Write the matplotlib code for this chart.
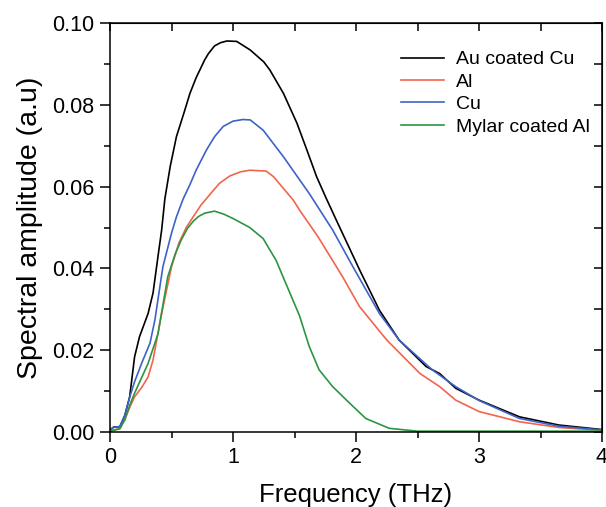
import matplotlib
matplotlib.use("Agg")
import matplotlib.pyplot as plt
from matplotlib.ticker import MultipleLocator

plt.rcParams['font.family'] = ['Liberation Sans', 'DejaVu Sans']

au_f = [0, 0.03, 0.08, 0.12, 0.16, 0.20, 0.24, 0.31, 0.35, 0.39, 0.42, 0.446, 0.49, 0.54, 0.60, 0.65,
        0.70, 0.77, 0.80, 0.85, 0.90, 0.95, 1.03, 1.14, 1.25, 1.30, 1.41, 1.52, 1.60, 1.68, 1.76, 1.84,
        2.03, 2.19, 2.35, 2.57, 2.68, 2.81, 3.0, 3.33, 3.65, 4.0]
au_v = [0.0005, 0.0012, 0.0013, 0.004, 0.0086, 0.0184, 0.0233, 0.029, 0.034, 0.0429, 0.0494, 0.0570,
        0.0650, 0.0722, 0.0779, 0.0828, 0.0866, 0.0910, 0.0925, 0.0944, 0.0952, 0.0956, 0.0955, 0.0934,
        0.0905, 0.0885, 0.0828, 0.0755, 0.069, 0.0624, 0.057, 0.0518, 0.0396, 0.0298, 0.0225, 0.016,
        0.0143, 0.0107, 0.0078, 0.0037, 0.0017, 0.0006]

al_f = [0, 0.08, 0.12, 0.16, 0.20, 0.26, 0.31, 0.35, 0.42, 0.50, 0.56, 0.62, 0.676, 0.74, 0.81, 0.89,
        0.974, 1.06, 1.136, 1.27, 1.33, 1.49, 1.54, 1.69, 1.89, 2.03, 2.25, 2.52, 2.68, 2.81, 3.0, 3.33,
        3.65, 4.0]
al_v = [0.0003, 0.0008, 0.003, 0.006, 0.0086, 0.011, 0.0135, 0.0176, 0.029, 0.0404, 0.0462, 0.050,
        0.0526, 0.0555, 0.0580, 0.0608, 0.0626, 0.0636, 0.0640, 0.0638, 0.0624, 0.0567, 0.0543, 0.0478,
        0.038, 0.0306, 0.0225, 0.0143, 0.0111, 0.0078, 0.005, 0.0025, 0.0011, 0.0004]

cu_f = [0, 0.03, 0.08, 0.12, 0.16, 0.20, 0.26, 0.325, 0.365, 0.43, 0.50, 0.54, 0.595, 0.65, 0.70, 0.785,
        0.85, 0.92, 1.0, 1.08, 1.14, 1.245, 1.41, 1.62, 1.81, 1.975, 2.19, 2.35, 2.62, 2.81, 3.0, 3.33,
        3.65, 4.0]
cu_v = [0.0005, 0.0012, 0.0013, 0.004, 0.0085, 0.0123, 0.017, 0.0217, 0.0274, 0.0404, 0.0486, 0.0526,
        0.0570, 0.0605, 0.0640, 0.0690, 0.0722, 0.0747, 0.0760, 0.0764, 0.0763, 0.0738, 0.0673, 0.0583,
        0.0494, 0.0404, 0.029, 0.0225, 0.0152, 0.0111, 0.0077, 0.0033, 0.0014, 0.0005]

my_f = [0, 0.08, 0.12, 0.16, 0.20, 0.31, 0.39, 0.47, 0.53, 0.58, 0.63, 0.676, 0.72, 0.77, 0.85, 0.93,
        1.0, 1.136, 1.245, 1.30, 1.35, 1.42, 1.54, 1.62, 1.70, 1.81, 1.95, 2.08, 2.27, 2.5, 3.0, 4.0]
my_v = [0.0002, 0.0008, 0.003, 0.0065, 0.0095, 0.0168, 0.024, 0.038, 0.0435, 0.047, 0.0498, 0.0515,
        0.0527, 0.0535, 0.0540, 0.0532, 0.0522, 0.0500, 0.0473, 0.0445, 0.042, 0.037, 0.0285, 0.0209,
        0.0152, 0.0111, 0.007, 0.0033, 0.0009, 0.0002, 0.0002, 0.0002]

labels = ["Au coated Cu", "Al", "Cu", "Mylar coated Al"]
colors = ["#000000", "#f2654c", "#3d62c9", "#2a9640"]

fig = plt.figure(figsize=(6.06, 5.07), dpi=100)
ax = fig.add_axes([110/606, 75/507, 492/606, 409/507])

for f, v, lab, c in zip([au_f, al_f, cu_f, my_f], [au_v, al_v, cu_v, my_v], labels, colors):
    ax.plot(f, v, color=c, lw=1.2, label=lab)

ax.set_xlim(0, 4)
ax.set_ylim(0, 0.1)
ax.xaxis.set_major_locator(MultipleLocator(1))
ax.xaxis.set_minor_locator(MultipleLocator(0.5))
ax.yaxis.set_major_locator(MultipleLocator(0.02))
ax.yaxis.set_minor_locator(MultipleLocator(0.01))
ax.yaxis.set_major_formatter(matplotlib.ticker.FormatStrFormatter('%.2f'))

ax.tick_params(which='both', direction='out', width=1.1, labelsize=15.5, top=False, right=False)
ax.tick_params(which='major', length=7, pad=4)
ax.tick_params(which='minor', length=4)
for s in ax.spines.values():
    s.set_linewidth(1.1)

# mirrored inward ticks on top and right
sec_x = ax.secondary_xaxis('top')
sec_x.xaxis.set_major_locator(MultipleLocator(0.5))
sec_x.tick_params(direction='in', length=6, width=1.1, labeltop=False)
sec_y = ax.secondary_yaxis('right')
sec_y.yaxis.set_major_locator(MultipleLocator(0.01))
sec_y.tick_params(direction='in', length=6, width=1.1, labelright=False)

ax.set_xlabel("Frequency (THz)", fontsize=18.5, labelpad=10.5)
ax.set_ylabel("Spectral amplitude (a.u)", fontsize=20.5, labelpad=7)

ax.legend(loc='upper right', frameon=False, fontsize=14, handlelength=2.2,
          handletextpad=0.6, labelspacing=0.25, bbox_to_anchor=(1.01, 0.975))

fig.savefig("out.png", dpi=100, facecolor='white')
